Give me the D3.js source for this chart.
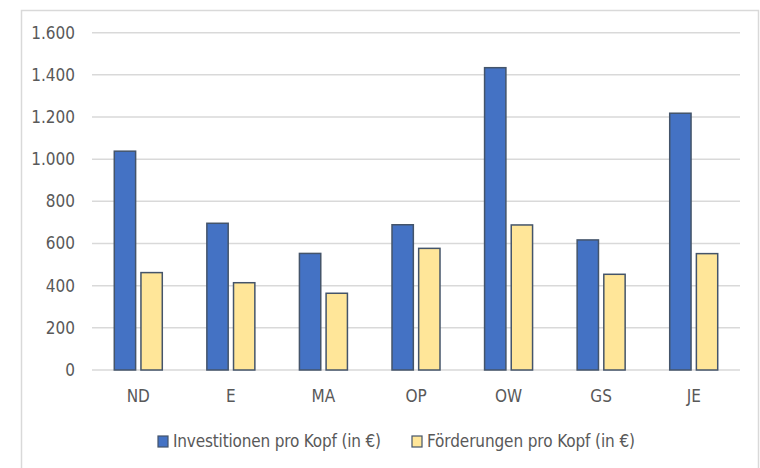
<!DOCTYPE html>
<html>
<head>
<meta charset="utf-8">
<script src="https://cdn.jsdelivr.net/npm/d3@7"></script>
<style>
  body { margin: 0; background: #fff; }
  svg text { font-family: "Liberation Sans Narrow", "DejaVu Sans Condensed", "Liberation Sans", sans-serif; fill: #595959; }
</style>
</head>
<body>
<svg width="760" height="468"></svg>
<script>
// data
var regions = ["ND", "E", "MA", "OP", "OW", "GS", "JE"];
var investitionen = [1038, 696, 553, 689, 1434, 617, 1218];
var foerderungen = [462, 414, 364, 577, 688, 454, 552];
var seriesNames = ["Investitionen pro Kopf (in €)", "Förderungen pro Kopf (in €)"];
var yTicks = [0, 200, 400, 600, 800, 1000, 1200, 1400, 1600];

var colors = ["#4472C4", "#FFE699"];

var svg = d3.select("svg");
var de = d3.formatLocale({decimal: ",", thousands: ".", grouping: [3], currency: ["", " €"]});
var fmt = de.format(",");

var plotLeft = 92, plotRight = 740, plotTop = 32.7, plotBottom = 370;

// outer chart frame
svg.append("rect")
    .attr("x", 21.5).attr("y", 10.5)
    .attr("width", 737).attr("height", 480)
    .attr("fill", "none")
    .attr("stroke", "#d9d9d9")
    .attr("stroke-width", 1.5);

var x = d3.scaleBand().domain(regions).range([plotLeft, plotRight]);
var x1 = d3.scaleBand().domain([0, 1]).range([0, 48]).paddingInner(0.2);
var y = d3.scaleLinear().domain([0, 1600]).range([plotBottom, plotTop]);

// gridlines
svg.append("g").selectAll("line")
    .data(yTicks)
    .enter().append("line")
    .attr("x1", plotLeft).attr("x2", plotRight)
    .attr("y1", function(d) { return y(d); })
    .attr("y2", function(d) { return y(d); })
    .attr("stroke", "#d9d9d9")
    .attr("stroke-width", 1.5);

var yAxis = svg.append("g")
    .attr("transform", "translate(" + plotLeft + ",0)")
    .call(d3.axisLeft(y).tickValues(yTicks).tickFormat(fmt).tickSize(0).tickPadding(17));
yAxis.select(".domain").remove();
yAxis.selectAll("text").style("font-size", "17px").attr("fill", "#595959");

var xAxis = svg.append("g")
    .attr("transform", "translate(0," + plotBottom + ")")
    .call(d3.axisBottom(x).tickSize(0).tickPadding(20));
xAxis.select(".domain").remove();
xAxis.selectAll("text").style("font-size", "17px").attr("fill", "#595959");

var rows = regions.map(function(r, i) {
    return {region: r, vals: [investitionen[i], foerderungen[i]]};
});

var groups = svg.selectAll(".grp")
    .data(rows)
    .enter().append("g")
    .attr("class", "grp")
    .attr("transform", function(d) { return "translate(" + (x(d.region) + x.bandwidth() / 2 - 24) + ",0)"; });

groups.selectAll("rect")
    .data(function(d) { return d.vals; })
    .enter().append("rect")
    .attr("x", function(d, i) { return x1(i); })
    .attr("width", x1.bandwidth())
    .attr("y", function(d) { return y(d); })
    .attr("height", function(d) { return plotBottom - y(d); })
    .attr("fill", function(d, i) { return colors[i]; })
    .attr("stroke", "#44546A")
    .attr("stroke-width", 1.5);

// legend
var legendX = [158, 412];
var legend = svg.selectAll(".leg")
    .data(seriesNames)
    .enter().append("g")
    .attr("class", "leg")
    .attr("transform", function(d, i) { return "translate(" + legendX[i] + ",436)"; });

legend.append("rect")
    .attr("width", 10).attr("height", 11)
    .attr("fill", function(d, i) { return colors[i]; })
    .attr("stroke", "#44546A")
    .attr("stroke-width", 1.2);

legend.append("text")
    .attr("x", 15).attr("y", 11)
    .attr("textLength", 208)
    .attr("lengthAdjust", "spacing")
    .style("font-size", "17px")
    .text(function(d) { return d; });
</script>
</body>
</html>
